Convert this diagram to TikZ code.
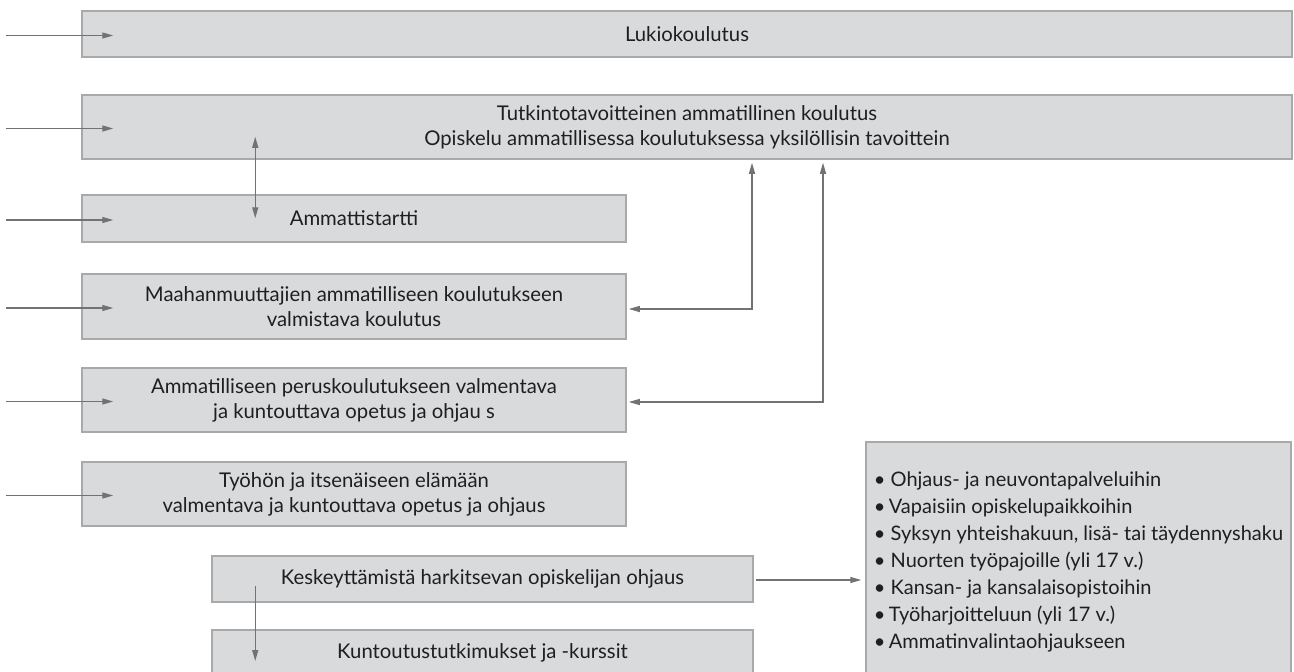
\documentclass[tikz,border=0pt]{standalone}
\usepackage{fontspec}
\setmainfont{Lato}
\usetikzlibrary{calc,arrows.meta}
\definecolor{boxfill}{HTML}{D9DADB}
\definecolor{boxline}{HTML}{A9A9AA}
\definecolor{arrowgray}{HTML}{727273}
\tikzset{
  box/.style={draw=boxline, fill=boxfill, line width=1.5pt, align=center,
    inner sep=0pt, font=\fontsize{20.3}{25}\selectfont, text=black!88},
  feed/.style={draw=arrowgray, line width=1.3pt, -{Triangle[length=11pt,width=6pt]}},
  link/.style={draw=arrowgray, line width=1.3pt,
    {Triangle[length=11pt,width=6pt]}-{Triangle[length=11pt,width=6pt]}}
}

\begin{document}
\begin{tikzpicture}[x=1pt,y=-1pt]
		%%%%% START %%%%%
		\useasboundingbox (0,0) rectangle (1294,672);
		
		% upper row, full width
		\node[box, minimum width=1210, minimum height=46] (luk) at (687,34) {Lukiokoulutus};
		\node[box, minimum width=1210, minimum height=64] (tut) at (687,127)
		  {Tutkintotavoitteinen ammatillinen koulutus\\Opiskelu ammatillisessa koulutuksessa yksilöllisin tavoittein};
		
		% left column
		\node[box, minimum width=544, minimum height=47] (star) at (354,218.5) {Ammattistartti};
		\node[box, minimum width=544, minimum height=65] (maa) at (354,306.5)
		  {Maahanmuuttajien ammatilliseen koulutukseen\\valmistava koulutus};
		\node[box, minimum width=544, minimum height=64] (per) at (354,400)
		  {Ammatilliseen peruskoulutukseen valmentava\\ja kuntouttava opetus ja ohjau s};
		\node[box, minimum width=544, minimum height=64] (tyo) at (354,494)
		  {Työhön ja itsenäiseen elämään\\valmentava ja kuntouttava opetus ja ohjaus};
		
		\node[box, minimum width=541, minimum height=46] (kes) at (482.5,579)
		  {Keskeyttämistä harkitsevan opiskelijan ohjaus};
		\node[box, minimum width=541, minimum height=46] (kun) at (482.5,653)
		  {Kuntoutustutkimukset ja -kurssit};
		
		% list on the right
		\node[box, minimum width=425, minimum height=240, align=left,
		  font=\fontsize{20}{27}\selectfont] (list) at (1078.5,562)
		  {• Ohjaus- ja neuvontapalveluihin\\
		   •\,Vapaisiin opiskelupaikkoihin\\
		   • Syksyn yhteishakuun, lisä- tai täydennyshaku\\
		   • Nuorten työpajoille (yli 17 v.)\\
		   • Kansan- ja kansalaisopistoihin\\
		   •\,Työharjoitteluun (yli 17 v.)\\
		   •\,Ammatinvalintaohjaukseen};
		
		% incoming arrows
		\foreach \n in {luk,tut,star,maa,per,tyo}
		  \draw[feed] ([shift={(-75,1.5)}]\n.west) -- ++(107,0);
		
		\draw[link] ([shift={(174,-23)}]tut.south -| star.west) -- ([shift={(174,24)}]star.north west);
		\draw[link] ([shift={(2,2.5)}]maa.east) -| ([shift={(65,3)}]tut.south);
		\draw[link] ([shift={(2,2)}]per.east) -| ([shift={(136,3)}]tut.south);
		
		\draw[feed] ([shift={(44,7)}]kes.west) -- ([shift={(44,8)}]kun.west);
		\draw[feed, shorten >=4pt] ([shift={(2,1)}]kes.east) -- ([shift={(0,1)}]kes.east -| list.west);
		
		%%%%% END %%%%%
	\end{tikzpicture}
\end{document}
